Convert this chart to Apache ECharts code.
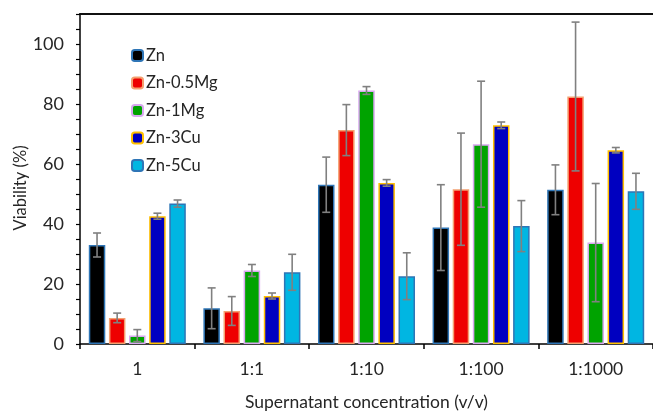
<!DOCTYPE html>
<html>
<head>
<meta charset="utf-8">
<script src="https://cdn.jsdelivr.net/npm/echarts@6/dist/echarts.min.js"></script>
<style>html,body{margin:0;padding:0;background:#fff}#c{width:653px;height:416px}</style>
</head>
<body>
<div id="c"></div>
<script>
const categories = ['1', '1:1', '1:10', '1:100', '1:1000'];
const seriesNames = ['Zn', 'Zn-0.5Mg', 'Zn-1Mg', 'Zn-3Cu', 'Zn-5Cu'];
const znMean    = [33.0, 11.9, 53.1, 38.8, 51.4];
const znErr     = [4.0, 6.8, 9.2, 14.3, 8.3];
const mg05Mean  = [8.7, 11.0, 71.3, 51.6, 82.5];
const mg05Err   = [1.6, 4.8, 8.5, 18.7, 24.8];
const mg1Mean   = [2.8, 24.5, 84.5, 66.6, 33.8];
const mg1Err    = [2.0, 2.0, 1.3, 21.0, 19.7];
const cu3Mean   = [42.6, 16.0, 53.7, 72.9, 64.6];
const cu3Err    = [1.0, 1.0, 1.1, 1.1, 0.9];
const cu5Mean   = [46.8, 23.9, 22.6, 39.3, 50.9];
const cu5Err    = [1.2, 6.0, 7.8, 8.5, 6.0];
const yTickLabels = [0, 20, 40, 60, 80, 100];

const means = [znMean, mg05Mean, mg1Mean, cu3Mean, cu5Mean];
const errs = [znErr, mg05Err, mg1Err, cu3Err, cu5Err];
const fills = ['#000000', '#ee0000', '#00a300', '#0000c0', '#00b6e2'];
const borders = ['#2e75b6', '#f4a070', '#d9a8f0', '#ffc000', '#2e75b6'];

const BAR_W = 16.5;
const GAP_RATIO = 0.22;
const PITCH = BAR_W * (1 + GAP_RATIO);
const FONT = 'Lato';
const TXT = '#262626';

const series = [];
means.forEach((m, i) => {
  series.push({
    name: seriesNames[i], type: 'bar', data: m,
    barWidth: BAR_W, barGap: (GAP_RATIO * 100) + '%',
    itemStyle: { color: fills[i], borderColor: borders[i], borderWidth: 1.5 },
    z: 2
  });
});
means.forEach((m, i) => {
  const data = m.map((v, k) => [k, v - errs[i][k], v + errs[i][k]]);
  series.push({
    type: 'custom', name: seriesNames[i] + ' err',
    data: data, z: 5, silent: true,
    encode: { x: 0, y: [1, 2] },
    renderItem: function (params, api) {
      const k = api.value(0);
      const lo = api.coord([k, api.value(1)]);
      const hi = api.coord([k, api.value(2)]);
      const x = lo[0] + (i - 2) * PITCH;
      const cap = 4;
      const st = { stroke: '#808080', lineWidth: 1.6 };
      return { type: 'group', children: [
        { type: 'line', shape: { x1: x, y1: lo[1], x2: x, y2: hi[1] }, style: st },
        { type: 'line', shape: { x1: x - cap, y1: lo[1], x2: x + cap, y2: lo[1] }, style: st },
        { type: 'line', shape: { x1: x - cap, y1: hi[1], x2: x + cap, y2: hi[1] }, style: st }
      ]};
    }
  });
});

const chart = echarts.init(document.getElementById('c'), null, { renderer: 'canvas' });
chart.setOption({
  animation: false,
  backgroundColor: '#fff',
  textStyle: { fontFamily: FONT },
  legend: {
    data: seriesNames, orient: 'vertical', left: 131, top: 47, padding: 0,
    itemWidth: 11, itemHeight: 11, itemGap: 10.5,
    textStyle: { fontSize: 16.5, color: TXT, fontFamily: FONT, padding: [0, 0, 0, -2] }
  },
  graphic: [{
    type: 'text', x: 21, y: 188, rotation: Math.PI / 2,
    style: { text: 'Viability (%)', fill: TXT, font: '16.5px Lato', align: 'center', verticalAlign: 'middle' }
  }],
  grid: { left: 80, right: -2, top: 14, bottom: 68, containLabel: false },
  xAxis: [{
    type: 'category', data: categories,
    axisLine: { lineStyle: { color: '#000', width: 1.5 } },
    axisTick: { show: true, length: 5, lineStyle: { color: '#000', width: 1.5 } },
    axisLabel: { fontSize: 17.5, color: TXT, margin: 16, fontFamily: FONT },
    name: 'Supernatant concentration (v/v)', nameLocation: 'middle', nameGap: 49,
    nameTextStyle: { fontSize: 17.5, color: TXT, fontFamily: FONT }
  }, {
    type: 'category', data: categories, position: 'top',
    axisLine: { lineStyle: { color: '#111', width: 2 } },
    axisTick: { show: false }, axisLabel: { show: false }
  }],
  yAxis: {
    type: 'value', min: 0, max: 110, interval: 5,
    axisLine: { show: true, lineStyle: { color: '#000', width: 1.5 } },
    axisTick: { show: true, length: 4, lineStyle: { color: '#000', width: 1.2 } },
    splitLine: { show: false },
    axisLabel: {
      fontSize: 18, color: TXT, margin: 16, fontFamily: FONT,
      formatter: v => (yTickLabels.indexOf(v) >= 0 ? String(v) : '')
    }
  },
  series: series
});
</script>
</body>
</html>
